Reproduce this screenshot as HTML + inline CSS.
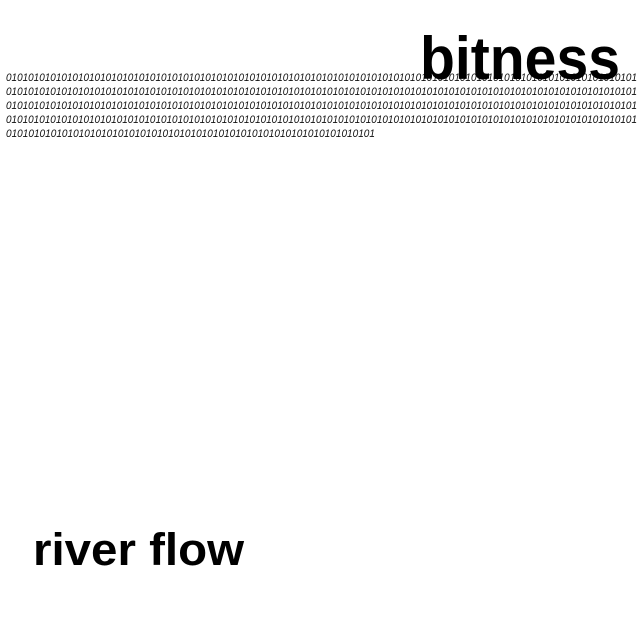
<!DOCTYPE html>
<html><head><style>
html,body{margin:0;padding:0;background:#fff;width:640px;height:640px;overflow:hidden}
</style></head><body>
<svg width="640" height="640" xmlns="http://www.w3.org/2000/svg">
<rect width="640" height="640" fill="#fff"/>
<g font-family="Liberation Sans, DejaVu Sans, sans-serif" font-size="11" font-style="italic" fill="#111">
<text x="6" y="81" textLength="631" lengthAdjust="spacingAndGlyphs">010101010101010101010101010101010101010101010101010101010101010101010101010101010101010101010101010101010101010101</text>
<text x="6" y="95" textLength="631" lengthAdjust="spacingAndGlyphs">010101010101010101010101010101010101010101010101010101010101010101010101010101010101010101010101010101010101010101</text>
<text x="6" y="109" textLength="631" lengthAdjust="spacingAndGlyphs">010101010101010101010101010101010101010101010101010101010101010101010101010101010101010101010101010101010101010101</text>
<text x="6" y="123" textLength="631" lengthAdjust="spacingAndGlyphs">010101010101010101010101010101010101010101010101010101010101010101010101010101010101010101010101010101010101010101</text>
<text x="6" y="137" textLength="369" lengthAdjust="spacingAndGlyphs">010101010101010101010101010101010101010101010101010101010101010101</text>
</g>
<text x="420" y="79" font-family="Liberation Sans, sans-serif" font-weight="bold" font-size="60" fill="#000" textLength="200" lengthAdjust="spacingAndGlyphs">bitness</text>
<text x="33" y="565" font-family="Liberation Sans, sans-serif" font-weight="bold" font-size="45" fill="#000" textLength="211" lengthAdjust="spacingAndGlyphs">river flow</text>
</svg>
</body></html>
